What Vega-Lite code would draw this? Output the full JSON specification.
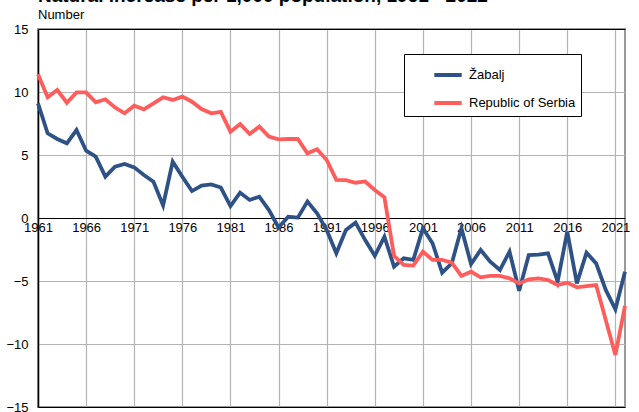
{
  "$schema": "https://vega.github.io/schema/vega-lite/v6.json",
  "width": 587,
  "height": 378,
  "autosize": "none",
  "padding": {"left": 38, "top": 29, "right": 14, "bottom": 5},
  "background": "white",
  "title": {
    "text": "Natural increase per 1,000 population, 1961 - 2022",
    "subtitle": "Number",
    "anchor": "start",
    "frame": "group",
    "font": "Liberation Sans",
    "fontSize": 19,
    "fontWeight": "bold",
    "color": "black",
    "subtitleFont": "Liberation Sans",
    "subtitleFontSize": 13,
    "subtitleColor": "black",
    "subtitlePadding": 3,
    "offset": 1
  },
  "config": {
    "view": {"stroke": "#999999", "strokeWidth": 2},
    "axis": {"labelFont": "Liberation Sans", "labelFontSize": 13, "labelColor": "black", "ticks": false, "title": null, "gridColor": "#b4b4b4", "gridWidth": 1.2}
  },
  "data": {
    "values": [
      {"year": 1961, "region": "Žabalj", "value": 9.1},
      {"year": 1962, "region": "Žabalj", "value": 6.72},
      {"year": 1963, "region": "Žabalj", "value": 6.27},
      {"year": 1964, "region": "Žabalj", "value": 5.93},
      {"year": 1965, "region": "Žabalj", "value": 6.98},
      {"year": 1966, "region": "Žabalj", "value": 5.34},
      {"year": 1967, "region": "Žabalj", "value": 4.87},
      {"year": 1968, "region": "Žabalj", "value": 3.28},
      {"year": 1969, "region": "Žabalj", "value": 4.07},
      {"year": 1970, "region": "Žabalj", "value": 4.29},
      {"year": 1971, "region": "Žabalj", "value": 4.02},
      {"year": 1972, "region": "Žabalj", "value": 3.41},
      {"year": 1973, "region": "Žabalj", "value": 2.88},
      {"year": 1974, "region": "Žabalj", "value": 1.0},
      {"year": 1975, "region": "Žabalj", "value": 4.47},
      {"year": 1976, "region": "Žabalj", "value": 3.28},
      {"year": 1977, "region": "Žabalj", "value": 2.14},
      {"year": 1978, "region": "Žabalj", "value": 2.57},
      {"year": 1979, "region": "Žabalj", "value": 2.67},
      {"year": 1980, "region": "Žabalj", "value": 2.42},
      {"year": 1981, "region": "Žabalj", "value": 0.95},
      {"year": 1982, "region": "Žabalj", "value": 2.01},
      {"year": 1983, "region": "Žabalj", "value": 1.43},
      {"year": 1984, "region": "Žabalj", "value": 1.69},
      {"year": 1985, "region": "Žabalj", "value": 0.63},
      {"year": 1986, "region": "Žabalj", "value": -0.75},
      {"year": 1987, "region": "Žabalj", "value": 0.1},
      {"year": 1988, "region": "Žabalj", "value": 0.03},
      {"year": 1989, "region": "Žabalj", "value": 1.3},
      {"year": 1990, "region": "Žabalj", "value": 0.37},
      {"year": 1991, "region": "Žabalj", "value": -0.95},
      {"year": 1992, "region": "Žabalj", "value": -2.8},
      {"year": 1993, "region": "Žabalj", "value": -0.95},
      {"year": 1994, "region": "Žabalj", "value": -0.37},
      {"year": 1995, "region": "Žabalj", "value": -1.75},
      {"year": 1996, "region": "Žabalj", "value": -3.0},
      {"year": 1997, "region": "Žabalj", "value": -1.48},
      {"year": 1998, "region": "Žabalj", "value": -3.86},
      {"year": 1999, "region": "Žabalj", "value": -3.2},
      {"year": 2000, "region": "Žabalj", "value": -3.33},
      {"year": 2001, "region": "Žabalj", "value": -0.82},
      {"year": 2002, "region": "Žabalj", "value": -2.0},
      {"year": 2003, "region": "Žabalj", "value": -4.34},
      {"year": 2004, "region": "Žabalj", "value": -3.6},
      {"year": 2005, "region": "Žabalj", "value": -0.82},
      {"year": 2006, "region": "Žabalj", "value": -3.65},
      {"year": 2007, "region": "Žabalj", "value": -2.54},
      {"year": 2008, "region": "Žabalj", "value": -3.47},
      {"year": 2009, "region": "Žabalj", "value": -4.13},
      {"year": 2010, "region": "Žabalj", "value": -2.67},
      {"year": 2011, "region": "Žabalj", "value": -5.77},
      {"year": 2012, "region": "Žabalj", "value": -2.94},
      {"year": 2013, "region": "Žabalj", "value": -2.9},
      {"year": 2014, "region": "Žabalj", "value": -2.8},
      {"year": 2015, "region": "Žabalj", "value": -5.05},
      {"year": 2016, "region": "Žabalj", "value": -1.08},
      {"year": 2017, "region": "Žabalj", "value": -5.19},
      {"year": 2018, "region": "Žabalj", "value": -2.75},
      {"year": 2019, "region": "Žabalj", "value": -3.6},
      {"year": 2020, "region": "Žabalj", "value": -5.71},
      {"year": 2021, "region": "Žabalj", "value": -7.25},
      {"year": 2022, "region": "Žabalj", "value": -4.26},
      {"year": 1961, "region": "Republic of Serbia", "value": 11.4},
      {"year": 1962, "region": "Republic of Serbia", "value": 9.58},
      {"year": 1963, "region": "Republic of Serbia", "value": 10.16},
      {"year": 1964, "region": "Republic of Serbia", "value": 9.15},
      {"year": 1965, "region": "Republic of Serbia", "value": 9.97},
      {"year": 1966, "region": "Republic of Serbia", "value": 9.97},
      {"year": 1967, "region": "Republic of Serbia", "value": 9.18},
      {"year": 1968, "region": "Republic of Serbia", "value": 9.42},
      {"year": 1969, "region": "Republic of Serbia", "value": 8.78},
      {"year": 1970, "region": "Republic of Serbia", "value": 8.31},
      {"year": 1971, "region": "Republic of Serbia", "value": 8.91},
      {"year": 1972, "region": "Republic of Serbia", "value": 8.62},
      {"year": 1973, "region": "Republic of Serbia", "value": 9.1},
      {"year": 1974, "region": "Republic of Serbia", "value": 9.58},
      {"year": 1975, "region": "Republic of Serbia", "value": 9.37},
      {"year": 1976, "region": "Republic of Serbia", "value": 9.63},
      {"year": 1977, "region": "Republic of Serbia", "value": 9.23},
      {"year": 1978, "region": "Republic of Serbia", "value": 8.65},
      {"year": 1979, "region": "Republic of Serbia", "value": 8.31},
      {"year": 1980, "region": "Republic of Serbia", "value": 8.42},
      {"year": 1981, "region": "Republic of Serbia", "value": 6.85},
      {"year": 1982, "region": "Republic of Serbia", "value": 7.46},
      {"year": 1983, "region": "Republic of Serbia", "value": 6.67},
      {"year": 1984, "region": "Republic of Serbia", "value": 7.25},
      {"year": 1985, "region": "Republic of Serbia", "value": 6.46},
      {"year": 1986, "region": "Republic of Serbia", "value": 6.24},
      {"year": 1987, "region": "Republic of Serbia", "value": 6.27},
      {"year": 1988, "region": "Republic of Serbia", "value": 6.27},
      {"year": 1989, "region": "Republic of Serbia", "value": 5.13},
      {"year": 1990, "region": "Republic of Serbia", "value": 5.45},
      {"year": 1991, "region": "Republic of Serbia", "value": 4.6},
      {"year": 1992, "region": "Republic of Serbia", "value": 3.02},
      {"year": 1993, "region": "Republic of Serbia", "value": 3.0},
      {"year": 1994, "region": "Republic of Serbia", "value": 2.8},
      {"year": 1995, "region": "Republic of Serbia", "value": 2.9},
      {"year": 1996, "region": "Republic of Serbia", "value": 2.22},
      {"year": 1997, "region": "Republic of Serbia", "value": 1.64},
      {"year": 1998, "region": "Republic of Serbia", "value": -3.0},
      {"year": 1999, "region": "Republic of Serbia", "value": -3.73},
      {"year": 2000, "region": "Republic of Serbia", "value": -3.78},
      {"year": 2001, "region": "Republic of Serbia", "value": -2.67},
      {"year": 2002, "region": "Republic of Serbia", "value": -3.33},
      {"year": 2003, "region": "Republic of Serbia", "value": -3.33},
      {"year": 2004, "region": "Republic of Serbia", "value": -3.54},
      {"year": 2005, "region": "Republic of Serbia", "value": -4.6},
      {"year": 2006, "region": "Republic of Serbia", "value": -4.26},
      {"year": 2007, "region": "Republic of Serbia", "value": -4.71},
      {"year": 2008, "region": "Republic of Serbia", "value": -4.6},
      {"year": 2009, "region": "Republic of Serbia", "value": -4.6},
      {"year": 2010, "region": "Republic of Serbia", "value": -4.79},
      {"year": 2011, "region": "Republic of Serbia", "value": -5.19},
      {"year": 2012, "region": "Republic of Serbia", "value": -4.87},
      {"year": 2013, "region": "Republic of Serbia", "value": -4.79},
      {"year": 2014, "region": "Republic of Serbia", "value": -4.92},
      {"year": 2015, "region": "Republic of Serbia", "value": -5.32},
      {"year": 2016, "region": "Republic of Serbia", "value": -5.13},
      {"year": 2017, "region": "Republic of Serbia", "value": -5.5},
      {"year": 2018, "region": "Republic of Serbia", "value": -5.4},
      {"year": 2019, "region": "Republic of Serbia", "value": -5.32},
      {"year": 2020, "region": "Republic of Serbia", "value": -8.1},
      {"year": 2021, "region": "Republic of Serbia", "value": -10.87},
      {"year": 2022, "region": "Republic of Serbia", "value": -6.98}
    ]
  },
  "mark": {"type": "line", "strokeWidth": 3.8, "strokeJoin": "miter", "strokeCap": "butt"},
  "encoding": {
    "x": {
      "field": "year",
      "type": "quantitative",
      "scale": {"domain": [1961, 2022], "nice": false, "zero": false},
      "axis": {
        "values": [1961, 1966, 1971, 1976, 1981, 1986, 1991, 1996, 2001, 2006, 2011, 2016, 2021],
        "format": "d",
        "offset": -189,
        "domainColor": "black",
        "domainWidth": 1.2,
        "labelPadding": 3,
        "labelFlush": false,
        "labelOverlap": false,
        "grid": true
      }
    },
    "y": {
      "field": "value",
      "type": "quantitative",
      "scale": {"domain": [-15, 15], "nice": false},
      "axis": {
        "values": [-15, -10, -5, 0, 5, 10, 15],
        "domainColor": "black",
        "domainWidth": 1.5,
        "labelPadding": 10,
        "gridColor": {"condition": {"test": "abs(datum.value) == 15", "value": "black"}, "value": "#b4b4b4"}
      }
    },
    "color": {
      "field": "region",
      "type": "nominal",
      "scale": {"domain": ["Žabalj", "Republic of Serbia"], "range": ["#2E5285", "#FF5C5C"]},
      "legend": {
        "title": null,
        "orient": "none",
        "legendX": 366,
        "legendY": 25,
        "fillColor": "white",
        "strokeColor": "black",
        "padding": 5,
        "symbolType": "stroke",
        "symbolStrokeWidth": 4,
        "symbolSize": 750,
        "symbolOffset": 23,
        "labelOffset": 5,
        "labelFont": "Liberation Sans",
        "labelFontSize": 13,
        "labelColor": "black",
        "rowPadding": 4,
        "labelExpr": "datum.label + '\u00a0\u00a0\u00a0\u00a0\u00a0\u00a0'"
      }
    }
  }
}
